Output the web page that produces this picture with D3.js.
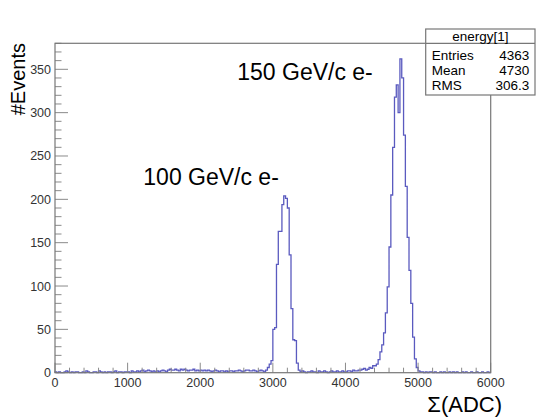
<!DOCTYPE html>
<html>
<head>
<meta charset="utf-8">
<script src="https://cdn.jsdelivr.net/npm/d3@7"></script>
<style>
body{margin:0;background:#fff;}
text{font-family:"Liberation Sans",Arial,Helvetica,sans-serif;}
</style>
</head>
<body>
<svg></svg>
<script>
// histogram: 240 bins of 25 ADC from 0 to 6000
var binWidth = 25;
var counts = [
	1,0,1,0,0,1,2,1,0,1,0,1,1,0,0,1,0,2,1,0,          // 0-500
	0,1,1,0,2,1,0,1,0,1,1,0,1,2,0,1,1,0,1,1,          // 500-1000
	1,0,2,1,1,2,1,2,3,1,2,3,2,1,2,1,2,1,2,3,          // 1000-1500
	2,1,3,4,3,3,4,3,2,4,3,4,3,2,3,3,4,2,3,2,          // 1500-2000
	3,2,3,2,3,2,1,2,3,2,1,2,2,1,2,1,2,2,1,2,          // 2000-2500
	2,3,2,1,2,3,3,2,2,3,2,1,2,3,2,1,3,6,10,14,        // 2500-3000
	50,52,125,163,163,194,204,201,190,136,74,38,37,11,3,1,2,1,0,1,   // 3000-3500
	1,2,1,1,0,2,1,1,2,1,0,1,2,1,1,2,1,1,2,1,          // 3500-4000
	1,2,2,1,3,2,2,3,3,4,5,3,4,6,5,8,8,10,15,24,       // 4000-4500
	32,46,69,99,145,205,260,318,332,300,362,340,274,215,156,118,80,41,16,6, // 4500-5000
	2,1,1,0,1,0,1,1,0,1,0,0,1,0,1,0,0,1,0,1,          // 5000-5500
	0,1,0,0,1,0,1,0,0,1,0,0,1,0,0,1,0,0,1,0           // 5500-6000
];

var xTicks = [0,1000,2000,3000,4000,5000,6000];
var yTicks = [0,50,100,150,200,250,300,350];
var statTitle = "energy[1]";
var statLabels = ["Entries","Mean","RMS"];
var statValues = ["4363","4730","306.3"];
var xTitle = "\u03a3(ADC)";
var yTitle = "#Events";

var svgwidth = 546, svgheight = 417;
var margins = {top:43.3, bottom:44.3, left:55, right:55.3};
var width = svgwidth - margins.left - margins.right;
var height = svgheight - margins.top - margins.bottom;

var svg = d3.select('svg').attr('width',svgwidth).attr('height',svgheight);

var x = d3.scaleLinear().domain([0,6000]).range([0,width]);
var y = d3.scaleLinear().domain([0,380]).range([height,0]);

var plot = svg.append('g').attr('transform','translate('+margins.left+','+margins.top+')');

var xMinor = d3.range(0,6001,200).filter(function(d){ return d%1000 != 0; });
var yMinor = d3.range(0,381,10).filter(function(d){ return d%50 != 0; });

// histogram line
var pts = [[0,0]];
counts.forEach(function(c,i){ pts.push([i*binWidth,c]); });
pts.push([counts.length*binWidth,0]);
var line = d3.line().x(function(d){return x(d[0]);}).y(function(d){return y(d[1]);}).curve(d3.curveStepAfter);
plot.append('path').attr('d',line(pts))
	.attr('fill','none').attr('stroke','#5a5abf').attr('stroke-width',1.3);

// ticks (inward, root style)
var tickCol = '#8a8a8a';
plot.selectAll('.ymaj').data(yTicks).enter().append('line')
	.attr('x1',0).attr('x2',13).attr('y1',function(d){return y(d);}).attr('y2',function(d){return y(d);})
	.attr('stroke',tickCol);
plot.selectAll('.ymin').data(yMinor).enter().append('line')
	.attr('x1',0).attr('x2',6.5).attr('y1',function(d){return y(d);}).attr('y2',function(d){return y(d);})
	.attr('stroke',tickCol);
plot.selectAll('.xmaj').data(xTicks).enter().append('line')
	.attr('y1',height).attr('y2',height-10).attr('x1',function(d){return x(d);}).attr('x2',function(d){return x(d);})
	.attr('stroke',tickCol);
plot.selectAll('.xmin').data(xMinor).enter().append('line')
	.attr('y1',height).attr('y2',height-5).attr('x1',function(d){return x(d);}).attr('x2',function(d){return x(d);})
	.attr('stroke',tickCol);

// frame
plot.append('rect').attr('x',0).attr('y',0).attr('width',width).attr('height',height)
	.attr('fill','none').attr('stroke','#777').attr('stroke-width',1.2);

// tick labels
plot.selectAll('.ylab').data(yTicks).enter().append('text')
	.attr('x',-4).attr('y',function(d){return y(d)+4.5;})
	.attr('text-anchor','end').attr('font-size','12.5px').attr('fill','#333')
	.text(function(d){return d;});
plot.selectAll('.xlab').data(xTicks).enter().append('text')
	.attr('x',function(d){return x(d);}).attr('y',height+14)
	.attr('text-anchor','middle').attr('font-size','12.5px').attr('fill','#333')
	.text(function(d){return d;});

// axis titles
svg.append('text').attr('x',502).attr('y',412).attr('text-anchor','end')
	.attr('font-size','22px').attr('fill','#000').text(xTitle);
svg.append('text').attr('transform','translate(25,43) rotate(-90)').attr('text-anchor','end')
	.attr('font-size','20px').attr('fill','#000').text(yTitle);

// peak annotations
plot.append('text').attr('x',x(2510)).attr('y',y(337.6)).attr('font-size','23px').text('150 GeV/c e-');
plot.append('text').attr('x',x(1216)).attr('y',y(216.5)).attr('font-size','23px').text('100 GeV/c e-');

// stats box
var box = svg.append('g').attr('transform','translate(425.7,29)');
box.append('rect').attr('width',109.3).attr('height',66).attr('fill','#fff').attr('stroke','#777').attr('stroke-width',1.2);
box.append('line').attr('x1',0).attr('x2',109.3).attr('y1',14.3).attr('y2',14.3).attr('stroke','#777').attr('stroke-width',1.2);
box.append('text').attr('x',54.6).attr('y',11.5).attr('text-anchor','middle').attr('font-size','13.5px').text(statTitle);
box.selectAll('.slab').data(statLabels).enter().append('text')
	.attr('x',6).attr('y',function(d,i){return 31+i*14.8;}).attr('font-size','13.5px').text(function(d){return d;});
box.selectAll('.sval').data(statValues).enter().append('text')
	.attr('x',103.6).attr('y',function(d,i){return 31+i*14.8;}).attr('text-anchor','end').attr('font-size','13.5px').text(function(d){return d;});
</script>
</body>
</html>
